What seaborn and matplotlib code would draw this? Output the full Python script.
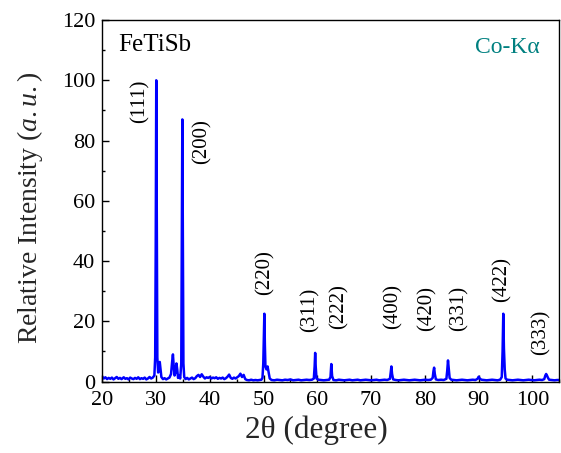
import matplotlib
matplotlib.use("Agg")
import matplotlib.pyplot as plt
import seaborn as sns
import pandas as pd
from matplotlib.ticker import MultipleLocator
from matplotlib import font_manager

# ---- data ----
two_theta = [
    20.0, 20.3, 20.6, 20.9, 21.2, 21.5, 21.8, 22.1, 22.4, 22.7, 23.0, 23.3, 23.6, 24.0, 24.3, 24.6, 24.9,
    25.2, 25.5, 25.8, 26.1, 26.4, 26.7, 27.0, 27.3, 27.6, 27.9, 28.2, 28.5, 28.8, 29.1, 29.4, 29.7,
    29.85, 29.95, 30.05, 30.15, 30.25, 30.4, 30.55, 30.7, 30.85, 31.0, 31.3, 31.6, 31.9, 32.2, 32.5,
    32.8, 33.0, 33.15, 33.3, 33.45, 33.6, 33.8, 33.95, 34.1, 34.3, 34.5, 34.7, 34.8, 34.9, 35.0, 35.1,
    35.25, 35.5, 35.8, 36.1, 36.4, 36.7, 37.0, 37.3, 37.6, 37.9, 38.2, 38.5, 38.8, 39.1, 39.4, 39.7,
    40.0, 40.3, 40.6, 40.9, 41.2, 41.5, 41.8, 42.1, 42.4, 42.7, 43.0, 43.3, 43.6, 43.9, 44.2, 44.5,
    44.8, 45.1, 45.4, 45.7, 46.0, 46.3, 46.6, 46.9, 47.3, 47.7, 48.1, 48.5, 48.9, 49.3, 49.6, 49.8,
    49.95, 50.05, 50.15, 50.25, 50.35, 50.55, 50.75, 50.95, 51.15, 51.5, 52.0, 52.5, 53.0, 53.5,
    54.0, 54.5, 55.0, 55.5, 56.0, 56.5, 57.0, 57.5, 58.0, 58.5, 59.0, 59.35, 59.5, 59.6, 59.7, 59.85,
    60.2, 60.7, 61.2, 61.7, 62.2, 62.45, 62.6, 62.75, 63.0, 63.5, 64.0, 64.5, 65.0, 65.5, 66.0, 66.5,
    67.0, 67.5, 68.0, 68.5, 69.0, 69.5, 70.0, 70.5, 71.0, 71.5, 72.0, 72.5, 73.0, 73.5, 73.65, 73.77,
    73.9, 74.1, 74.6, 75.1, 75.6, 76.1, 76.6, 77.1, 77.6, 78.1, 78.6, 79.1, 79.6, 80.1, 80.6, 81.1,
    81.45, 81.6, 81.72, 81.85, 82.05, 82.5, 83.0, 83.5, 84.0, 84.15, 84.3, 84.45, 84.6, 84.9, 85.4,
    85.9, 86.4, 86.9, 87.4, 87.9, 88.4, 88.9, 89.4, 89.8, 90.0, 90.2, 90.5, 91.0, 91.5, 92.0, 92.5,
    93.0, 93.5, 94.0, 94.3, 94.45, 94.58, 94.7, 94.85, 95.0, 95.3, 95.8, 96.3, 96.8, 97.3, 97.8, 98.3,
    98.8, 99.3, 99.8, 100.3, 100.8, 101.3, 101.8, 102.2, 102.4, 102.55, 102.7, 102.9, 103.1, 103.6,
    104.1, 104.6, 105.0,
]
intensity = [
    1.6, 1.0, 1.4, 0.8, 1.2, 0.9, 1.3, 0.7, 1.1, 1.5, 0.9, 1.2, 0.8, 1.4, 0.9, 1.1, 0.7,
    1.3, 1.0, 0.8, 1.2, 0.9, 1.4, 0.8, 1.1, 0.9, 1.3, 0.7, 1.0, 1.5, 1.0, 1.3, 2.0,
    8.0, 45.0, 100.0, 50.0, 8.0, 3.0, 4.5, 6.5, 4.0, 1.5, 0.8, 1.1, 0.7, 1.0, 1.3,
    2.5, 6.5, 9.0, 5.0, 2.0, 3.0, 6.0, 4.0, 1.2, 2.0, 1.0, 6.0, 45.0, 87.0, 45.0, 6.0,
    1.5, 0.8, 1.2, 0.7, 1.0, 1.3, 0.8, 1.1, 1.8, 2.2, 1.5, 2.4, 1.6, 1.0, 1.4, 1.2,
    1.5, 1.0, 1.3, 1.1, 1.4, 0.9, 1.2, 1.0, 1.3, 0.8, 1.1, 1.6, 2.3, 1.2, 0.9, 1.3,
    1.0, 1.4, 1.8, 2.6, 1.5, 2.2, 0.8, 0.5, 0.4, 0.6, 0.4, 0.5, 0.4, 0.5, 0.6, 1.2,
    6.0, 14.0, 22.5, 12.0, 5.0, 4.0, 5.0, 3.0, 1.0, 0.5, 0.4, 0.6, 0.5, 0.4,
    0.6, 0.5, 0.7, 0.4, 0.5, 0.6, 0.4, 0.5, 0.6, 0.5, 0.6, 1.0, 5.0, 9.5, 5.0, 1.0,
    0.6, 0.5, 0.4, 0.5, 0.6, 1.5, 5.8, 1.8, 0.5, 0.4, 0.6, 0.5, 0.4, 0.5, 0.6, 0.4,
    0.5, 0.6, 0.4, 0.5, 0.6, 0.5, 0.4, 0.5, 0.6, 0.4, 0.5, 0.6, 0.5, 0.9, 3.0, 5.0,
    2.5, 0.7, 0.5, 0.4, 0.5, 0.6, 0.5, 0.4, 0.5, 0.6, 0.5, 0.4, 0.5, 0.6, 0.5, 0.6,
    1.2, 3.5, 4.6, 2.5, 0.7, 0.5, 0.6, 0.5, 0.9, 3.5, 7.0, 4.0, 1.2, 0.6, 0.5,
    0.4, 0.5, 0.6, 0.5, 0.4, 0.5, 0.6, 0.5, 0.9, 1.6, 1.0, 0.6, 0.5, 0.4, 0.5, 0.6,
    0.5, 0.4, 0.6, 1.5, 10.0, 22.5, 11.0, 4.0, 1.0, 0.6, 0.5, 0.4, 0.5, 0.6, 0.5, 0.4,
    0.5, 0.6, 0.5, 0.4, 0.5, 0.6, 0.5, 0.8, 2.0, 2.5, 2.0, 1.2, 0.6, 0.5,
    0.4, 0.5, 0.5,
]

hkl_labels = ["(111)", "(200)", "(220)", "(311)", "(222)", "(400)", "(420)", "(331)", "(422)", "(333)"]
hkl_x = [27.0, 38.6, 50.2, 58.7, 64.1, 74.0, 80.4, 86.4, 94.4, 101.5]
hkl_y = [93.0, 79.6, 36.2, 23.7, 24.8, 25.0, 24.3, 24.3, 34.0, 16.2]

# ---- pick a Times-like serif that is installed ----
available = {f.name for f in font_manager.fontManager.ttflist}
serif = "DejaVu Serif"
for cand in ["Liberation Serif", "Tinos", "Times New Roman", "Nimbus Roman", "Nimbus Roman No9 L",
             "FreeSerif", "Noto Serif", "DejaVu Serif"]:
    if cand in available:
        serif = cand
        break

# ---- style ----
sns.set_style("ticks")
plt.rcParams["font.family"] = [serif, "DejaVu Serif"]
plt.rcParams["mathtext.fontset"] = "custom"
plt.rcParams["mathtext.rm"] = serif
plt.rcParams["mathtext.it"] = serif + ":italic"

df = pd.DataFrame({"two_theta": two_theta, "intensity": intensity})

fig = plt.figure(figsize=(5.61, 4.53), dpi=100)
ax = fig.add_axes([0.1822, 0.1578, 0.8148, 0.798])

sns.lineplot(data=df, x="two_theta", y="intensity", ax=ax, color="#0000FF",
             linewidth=1.8, estimator=None, sort=False)

ax.set_xlim(20, 105)
ax.set_ylim(0, 120)
ax.xaxis.set_major_locator(MultipleLocator(10))
ax.xaxis.set_minor_locator(MultipleLocator(5))
ax.yaxis.set_major_locator(MultipleLocator(20))
ax.yaxis.set_minor_locator(MultipleLocator(10))
ax.tick_params(which="both", direction="in", top=False, right=False, colors="black",
               labelsize=16, width=1.0)
ax.tick_params(which="major", length=5)
ax.tick_params(which="minor", length=2.5)
ax.tick_params(axis="x", which="major", pad=7)
ax.tick_params(axis="y", which="major", pad=5)
for s in ax.spines.values():
    s.set_visible(True)
    s.set_linewidth(1.0)
    s.set_color("black")

ax.set_xlabel("2θ (degree)", fontsize=22.5, labelpad=3)
ax.xaxis.set_label_coords(0.468, -0.095)
ax.xaxis.label.set_va("top")
ax.set_ylabel(r"Relative Intensity ($\mathit{a.u.}$)", fontsize=20)
ax.yaxis.set_label_coords(-0.125, 0.481)

for lab, x, y in zip(hkl_labels, hkl_x, hkl_y):
    ax.text(x, y, lab, rotation=90, ha="center", va="center", fontsize=15, color="black")

ax.text(22.9, 111.8, "FeTiSb", ha="left", va="center", fontsize=18, color="black")
ax.text(101.4, 110.8, "Co-Kα", ha="right", va="center", fontsize=17, color="#008080")

fig.savefig("out.png", dpi=100)
